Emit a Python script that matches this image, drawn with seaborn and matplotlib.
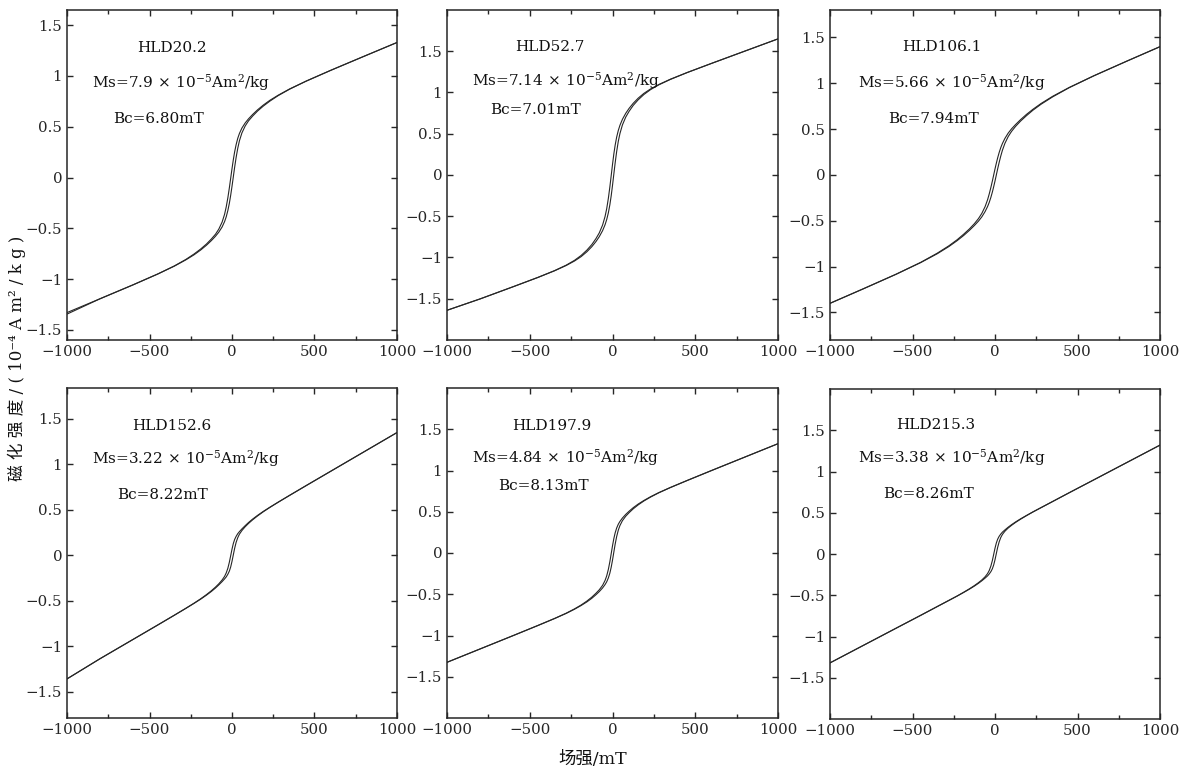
import matplotlib
matplotlib.use("Agg")
import matplotlib.pyplot as plt
import seaborn as sns
from matplotlib.ticker import MultipleLocator

# ---------------- data ----------------
field = [-1000, -800, -600, -450, -350, -280, -230, -190, -155, -125, -100, -80, -60, -45, -35,
         -25, -16, -8, 0, 8, 16, 25, 35, 45, 60, 80, 100, 125, 155, 190, 230, 280, 350, 450,
         600, 800, 1000]

samples = ["HLD20.2", "HLD52.7", "HLD106.1", "HLD152.6", "HLD197.9", "HLD215.3"]
ms_values = ["7.9", "7.14", "5.66", "3.22", "4.84", "3.38"]
bc_values = ["6.80", "7.01", "7.94", "8.22", "8.13", "8.26"]

# descending (upper) and ascending (lower) branches of each loop, 10^-4 Am2/kg
upper_1 = [-1.330, -1.194, -1.057, -0.950, -0.871, -0.807, -0.753, -0.704, -0.655, -0.605, -0.558,
           -0.508, -0.439, -0.362, -0.289, -0.198, -0.101, -0.007, 0.087, 0.175, 0.253, 0.324,
           0.387, 0.434, 0.487, 0.538, 0.578, 0.621, 0.667, 0.714, 0.761, 0.811, 0.873, 0.950,
           1.057, 1.194, 1.330]
lower_1 = [-1.345, -1.194, -1.057, -0.950, -0.873, -0.811, -0.761, -0.714, -0.667, -0.621, -0.578,
           -0.538, -0.487, -0.434, -0.387, -0.324, -0.253, -0.175, -0.087, 0.007, 0.101, 0.198,
           0.289, 0.362, 0.439, 0.508, 0.558, 0.605, 0.655, 0.704, 0.753, 0.807, 0.871, 0.950,
           1.057, 1.194, 1.330]

upper_2 = [-1.640, -1.502, -1.354, -1.241, -1.159, -1.093, -1.035, -0.976, -0.911, -0.843, -0.771,
           -0.702, -0.607, -0.503, -0.408, -0.282, -0.145, -0.010, 0.127, 0.254, 0.361, 0.458,
           0.540, 0.603, 0.675, 0.748, 0.807, 0.869, 0.931, 0.990, 1.043, 1.097, 1.161, 1.241,
           1.354, 1.502, 1.650]
lower_2 = [-1.640, -1.502, -1.354, -1.241, -1.161, -1.097, -1.043, -0.990, -0.931, -0.869, -0.807,
           -0.748, -0.675, -0.603, -0.540, -0.458, -0.361, -0.254, -0.127, 0.010, 0.145, 0.282,
           0.408, 0.503, 0.607, 0.702, 0.771, 0.843, 0.911, 0.976, 1.035, 1.093, 1.159, 1.241,
           1.354, 1.502, 1.650]

upper_3 = [-1.400, -1.243, -1.083, -0.953, -0.853, -0.773, -0.707, -0.646, -0.588, -0.531, -0.475,
           -0.419, -0.345, -0.270, -0.207, -0.136, -0.066, 0.000, 0.066, 0.128, 0.186, 0.244,
           0.299, 0.344, 0.399, 0.457, 0.503, 0.551, 0.604, 0.660, 0.717, 0.781, 0.859, 0.955,
           1.083, 1.243, 1.400]
lower_3 = [-1.400, -1.243, -1.083, -0.955, -0.859, -0.781, -0.717, -0.660, -0.604, -0.551, -0.503,
           -0.457, -0.399, -0.344, -0.299, -0.244, -0.186, -0.128, -0.066, 0.000, 0.066, 0.136,
           0.207, 0.270, 0.345, 0.419, 0.475, 0.531, 0.588, 0.646, 0.707, 0.773, 0.853, 0.953,
           1.083, 1.243, 1.400]

upper_4 = [-1.360, -1.138, -0.926, -0.767, -0.660, -0.584, -0.527, -0.479, -0.433, -0.390, -0.350,
           -0.314, -0.272, -0.232, -0.194, -0.142, -0.076, -0.005, 0.067, 0.129, 0.174, 0.208,
           0.238, 0.260, 0.290, 0.326, 0.360, 0.398, 0.439, 0.483, 0.529, 0.584, 0.660, 0.767,
           0.926, 1.138, 1.350]
lower_4 = [-1.360, -1.138, -0.926, -0.767, -0.660, -0.584, -0.529, -0.483, -0.439, -0.398, -0.360,
           -0.326, -0.290, -0.260, -0.238, -0.208, -0.174, -0.129, -0.067, 0.005, 0.076, 0.142,
           0.194, 0.232, 0.272, 0.314, 0.350, 0.390, 0.433, 0.479, 0.527, 0.584, 0.660, 0.767,
           0.926, 1.138, 1.350]

upper_5 = [-1.325, -1.163, -1.001, -0.878, -0.794, -0.730, -0.678, -0.631, -0.583, -0.535, -0.488,
           -0.446, -0.392, -0.333, -0.277, -0.198, -0.106, -0.010, 0.087, 0.174, 0.244, 0.302,
           0.349, 0.383, 0.424, 0.468, 0.506, 0.549, 0.593, 0.637, 0.682, 0.732, 0.794, 0.878,
           1.001, 1.163, 1.325]
lower_5 = [-1.325, -1.163, -1.001, -0.878, -0.794, -0.732, -0.682, -0.637, -0.593, -0.549, -0.506,
           -0.468, -0.424, -0.383, -0.349, -0.302, -0.244, -0.174, -0.087, 0.010, 0.106, 0.198,
           0.277, 0.333, 0.392, 0.446, 0.488, 0.535, 0.583, 0.631, 0.678, 0.730, 0.794, 0.878,
           1.001, 1.163, 1.325]

upper_6 = [-1.320, -1.110, -0.900, -0.743, -0.637, -0.563, -0.510, -0.464, -0.422, -0.383, -0.347,
           -0.315, -0.276, -0.237, -0.200, -0.146, -0.079, -0.005, 0.070, 0.133, 0.179, 0.214,
           0.242, 0.265, 0.292, 0.325, 0.355, 0.389, 0.426, 0.466, 0.510, 0.563, 0.637, 0.743,
           0.900, 1.110, 1.320]
lower_6 = [-1.320, -1.110, -0.900, -0.743, -0.637, -0.563, -0.510, -0.466, -0.426, -0.389, -0.355,
           -0.325, -0.292, -0.265, -0.242, -0.214, -0.179, -0.133, -0.070, 0.005, 0.079, 0.146,
           0.200, 0.237, 0.276, 0.315, 0.347, 0.383, 0.422, 0.464, 0.510, 0.563, 0.637, 0.743,
           0.900, 1.110, 1.320]

uppers = [upper_1, upper_2, upper_3, upper_4, upper_5, upper_6]
lowers = [lower_1, lower_2, lower_3, lower_4, lower_5, lower_6]

x_ticks = [-1000, -500, 0, 500, 1000]
x_tick_labels = ["\u22121000", "\u2212500", "0", "500", "1000"]
y_ticks = [-1.5, -1, -0.5, 0, 0.5, 1, 1.5]
y_tick_labels = ["\u22121.5", "\u22121", "\u22120.5", "0", "0.5", "1", "1.5"]

# ---------------- layout ----------------
W, H = 1181, 770
axes_px = [  # left, top, right, bottom in pixels
    (67, 10, 397, 340), (447, 10, 778, 340), (830, 10, 1160, 340),
    (67, 388, 397, 718), (447, 388, 778, 718), (830, 389, 1160, 719),
]
ylims = [(-1.6, 1.65), (-2.0, 2.0), (-1.8, 1.8), (-1.79, 1.84), (-2.0, 2.0), (-2.0, 2.0)]
text_pos = [
    [(0.318, 0.874), (0.344, 0.766), (0.276, 0.657)],
    [(0.311, 0.877), (0.358, 0.771), (0.267, 0.686)],
    [(0.339, 0.877), (0.370, 0.765), (0.315, 0.659)],
    [(0.318, 0.874), (0.360, 0.771), (0.288, 0.665)],
    [(0.317, 0.874), (0.357, 0.774), (0.290, 0.692)],
    [(0.321, 0.880), (0.370, 0.777), (0.300, 0.671)],
]

sns.set_style("ticks")
plt.rcParams["font.family"] = ["DejaVu Serif", "Noto Sans CJK SC"]
plt.rcParams["mathtext.fontset"] = "dejavuserif"

ink = "#262626"
fig = plt.figure(figsize=(W / 100, H / 100), dpi=100)

for i in range(6):
    l, t, r, b = axes_px[i]
    ax = fig.add_axes([l / W, 1 - b / H, (r - l) / W, (b - t) / H])
    sns.lineplot(x=field, y=uppers[i], ax=ax, color=ink, lw=0.8, estimator=None, sort=False)
    sns.lineplot(x=field, y=lowers[i], ax=ax, color=ink, lw=0.8, estimator=None, sort=False)
    ax.set_xlim(-1000, 1000)
    ax.set_ylim(*ylims[i])
    ax.set_xticks(x_ticks)
    ax.set_xticklabels(x_tick_labels)
    ax.xaxis.set_minor_locator(MultipleLocator(250))
    ax.set_yticks(y_ticks)
    ax.set_yticklabels(y_tick_labels)
    ax.tick_params(axis="both", which="major", direction="in", length=4.5, width=1.0,
                   top=True, right=True, labelsize=10.8, colors=ink, pad=3.5)
    ax.tick_params(axis="both", which="minor", direction="in", length=3, width=1.0,
                   top=True, right=True, colors=ink)
    for s in ax.spines.values():
        s.set_visible(True)
        s.set_color(ink)
        s.set_linewidth(1.1)
    ax.set_xlabel("")
    ax.set_ylabel("")
    (hx, hy), (mx, my), (bx, by) = text_pos[i]
    ax.text(hx, hy, samples[i], transform=ax.transAxes, ha="center", va="baseline",
            fontsize=11, color="#111111")
    ax.text(mx, my, "Ms=" + ms_values[i] + r"$\,\times\,$10$^{-5}$Am$^{2}$/kg",
            transform=ax.transAxes, ha="center", va="baseline", fontsize=11, color="#111111")
    ax.text(bx, by, "Bc=" + bc_values[i] + "mT", transform=ax.transAxes, ha="center",
            va="baseline", fontsize=11, color="#111111")

fig.text(593 / W, 1 - 760 / H, "场强/mT", ha="center", va="center", fontsize=12.5,
         color="#111111", family=["DejaVu Serif", "Noto Sans CJK SC"])
fig.text(17 / W, 1 - 358 / H, "磁 化 强 度 / ( 10\u207b\u2074 A m\u00b2 / k g )", rotation=90,
         ha="center", va="center", fontsize=12, color="#111111",
         family=["DejaVu Serif", "Noto Sans CJK SC"])

fig.savefig("out.png", dpi=100, facecolor="white")
